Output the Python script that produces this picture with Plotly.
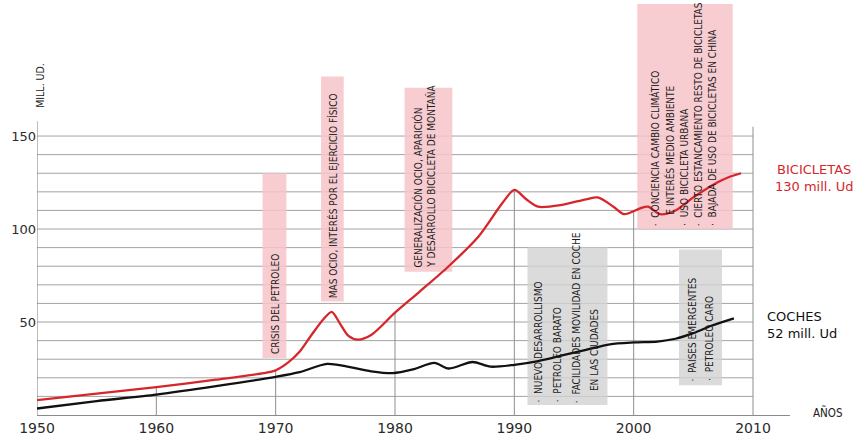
import numpy as np
import plotly.graph_objects as go

# World production, millions of units
bike_years = [1950, 1955, 1960, 1965, 1969, 1970, 1971, 1972, 1973, 1974, 1974.7,
              1975.4, 1976.1, 1976.9, 1978, 1980, 1982, 1984.5, 1987, 1989, 1990,
              1991, 1992, 1994, 1996, 1997, 1998.3, 1999.2, 2000.5, 2001.2, 2002.2,
              2003.5, 2005, 2007, 2008, 2009]
bike_values = [8, 11.5, 15, 19, 22.5, 24, 28, 34, 43, 51.5, 55.5,
               49, 42.5, 40.5, 43, 55, 66, 80, 96, 114, 121,
               116, 112, 113, 116, 117, 112, 108, 111, 112, 108,
               110, 117, 125, 128, 130]

car_years = [1950, 1955, 1960, 1965, 1970, 1972, 1974.3, 1976, 1978, 1979.8, 1981.5,
             1983.3, 1984.5, 1986.5, 1988, 1990, 1992, 1994, 1996, 1998, 2000, 2002,
             2003.5, 2005, 2006.5, 2008.4]
car_values = [3.5, 7.5, 11, 15.5, 20.5, 23, 27.5, 26, 23.5, 22.5, 24.5,
              28, 25, 28.5, 26, 27, 29, 32, 35, 38, 39, 39.5,
              41, 44, 48, 52]

decades = [1950, 1960, 1970, 1980, 1990, 2000, 2010]
decade_labels = [str(d) for d in decades]
y_ticks = [50, 100, 150]
y_tick_labels = ["50", "100", "150"]
grid_levels = list(range(10, 160, 10))

bike_label = "BICICLETAS<br>130 mill. Ud"
car_label = "COCHES<br>52 mill. Ud"

NB = "\u00a0"
BUL = "·" + NB + NB
IND = NB * 4

# Context notes: box (x0, x1, y0, y1), kind, first line x, line step (years),
# baseline of the rotated text, lines
notes = [
    (1968.9, 1970.9, 30.6, 130, "pink", 1970.0, 1.15, 31.5,
     ["CRISIS DEL PETROLEO"]),
    (1973.8, 1975.7, 61, 182, "pink", 1974.8, 1.15, 62,
     ["MAS OCIO, INTERÉS POR EL EJERCICIO FÍSICO"]),
    (1980.8, 1984.8, 77, 176, "pink", 1981.9, 1.15, 78,
     ["GENERALIZACIÓN OCIO, APARICIÓN", "Y DESARROLLO BICICLETA DE MONTAÑA"]),
    (2000.3, 2008.3, 100, 221.5, "pink", 2001.8, 1.2, 100.5,
     [BUL + "CONCIENCIA CAMBIO CLIMÁTICO",
      IND + "E INTERÉS MEDIO AMBIENTE",
      BUL + "USO BICICLETA URBANA",
      BUL + "CIERTO ESTANCAMIENTO RESTO DE BICICLETAS",
      BUL + "BAJADA DE USO DE BICICLETAS EN CHINA"]),
    (1991.1, 1997.8, 5.4, 90, "gray", 1992.0, 1.58, 5.5,
     [BUL + "NUEVO DESARROLLISMO",
      BUL + "PETROLEO BARATO",
      BUL + "FACILIDADES MOVILIDAD EN COCHE",
      IND + "EN LAS CIUDADES"]),
    (2003.8, 2007.4, 16, 89, "gray", 2004.9, 1.5, 17,
     [BUL + "PAISES EMERGENTES",
      BUL + "PETROLEO CARO"]),
]

FILL = {"pink": "rgba(247,196,202,0.85)", "gray": "rgba(210,210,210,0.8)"}
NARROW = "Liberation Sans Narrow, DejaVu Sans Condensed, Arial Narrow, sans-serif"
RED = "#d6262c"

fig = go.Figure()

shapes = []
# horizontal guide lines
for lv in grid_levels:
    shapes.append(dict(type="line", xref="x", yref="y", x0=1950, x1=2010, y0=lv, y1=lv,
                       line=dict(color="#a3a3a3", width=1), layer="below"))
# decade lines rise up to the bicycle curve; the last one closes the grid
for d in decades[1:]:
    top = 155 if d == decades[-1] else float(np.interp(d, bike_years, bike_values))
    shapes.append(dict(type="line", xref="x", yref="y", x0=d, x1=d, y0=0, y1=top,
                       line=dict(color="#8f8f8f", width=1), layer="below"))
# vertical axis line
shapes.append(dict(type="line", xref="x", yref="y", x0=1950, x1=1950, y0=0, y1=158,
                   line=dict(color="#7d7d7d", width=1), layer="below"))
# note boxes
for x0, x1, y0, y1, kind, tx, step, ty, lines in notes:
    shapes.append(dict(type="rect", xref="x", yref="y", x0=x0, x1=x1, y0=y0, y1=y1,
                       fillcolor=FILL[kind], line=dict(width=0), layer="below"))

fig.add_trace(go.Scatter(x=car_years, y=car_values, mode="lines", name="COCHES",
                         line=dict(color="#111111", width=2.3, shape="spline", smoothing=0.8),
                         hoverinfo="skip"))
fig.add_trace(go.Scatter(x=bike_years, y=bike_values, mode="lines", name="BICICLETAS",
                         line=dict(color=RED, width=2.3, shape="spline", smoothing=0.8),
                         hoverinfo="skip"))

annotations = []
for x0, x1, y0, y1, kind, tx, step, ty, lines in notes:
    for i, line in enumerate(lines):
        annotations.append(dict(x=tx + i * step, y=ty, xref="x", yref="y", text=line,
                                showarrow=False, textangle=-90, xanchor="center",
                                yanchor="bottom", align="left",
                                font=dict(family=NARROW, size=10, color="#1c1c1c")))

annotations += [
    dict(x=1950, y=177, xref="x", yref="y", text="MILL. UD.", showarrow=False,
         textangle=-90, xshift=3, font=dict(family=NARROW, size=10.5, color="#222")),
    dict(x=1.05, y=0.005, xref="paper", yref="paper", text="AÑOS", showarrow=False,
         xanchor="center", yanchor="middle",
         font=dict(family=NARROW, size=11.5, color="#222")),
    dict(x=1.032, y=127.4, xref="paper", yref="y", text=bike_label, showarrow=False,
         xanchor="center", yanchor="middle", align="center",
         font=dict(family="DejaVu Sans", size=13, color=RED)),
    dict(x=0.967, y=48.4, xref="paper", yref="y", text=car_label, showarrow=False,
         xanchor="left", yanchor="middle", align="left",
         font=dict(family="DejaVu Sans", size=13, color="#111")),
]

fig.update_layout(
    width=862, height=441,
    margin=dict(l=37, r=72, t=4, b=26),
    paper_bgcolor="white", plot_bgcolor="white",
    showlegend=False,
    shapes=shapes,
    annotations=annotations,
    xaxis=dict(range=[1950, 2013.1], tickvals=decades, ticktext=decade_labels,
               showgrid=False, zeroline=False, showline=True, linecolor="#8a8a8a",
               linewidth=1, ticks="", fixedrange=True,
               tickfont=dict(family="DejaVu Sans", size=14, color="#2b2b2b")),
    yaxis=dict(range=[0, 221], tickvals=y_ticks, ticktext=y_tick_labels,
               showgrid=False, zeroline=False, showline=False, ticks="", fixedrange=True,
               tickfont=dict(family="DejaVu Sans", size=13, color="#2b2b2b")),
)

fig.write_html("out.html")
